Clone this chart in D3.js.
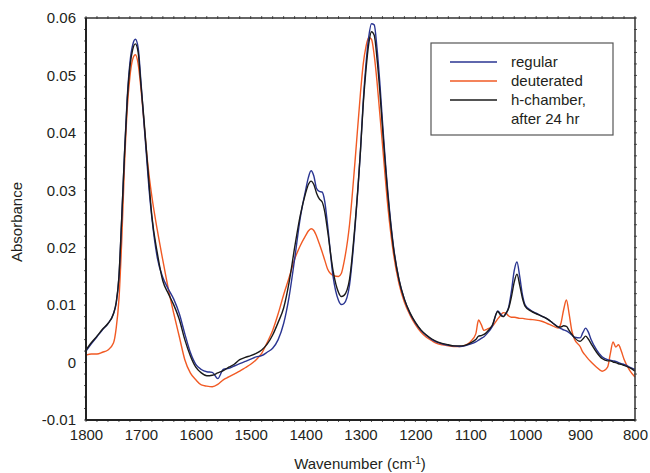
<!DOCTYPE html>
<html>
<head>
<meta charset="utf-8">
<script src="https://cdn.jsdelivr.net/npm/d3@7"></script>
<style>
  body { margin: 0; background: #fff; }
  text { font-family: "Liberation Sans", Arial, sans-serif; fill: #231f20; }
</style>
</head>
<body>
<svg id="chart" width="650" height="473"></svg>
<script>
const wavenumber = [1800,1790,1780,1770,1760,1750,1745,1740,1735,1730,1725,1720,1715,1710,1705,1700,1695,1690,1685,1680,1670,1660,1650,1640,1630,1620,1610,1600,1590,1580,1570,1560,1550,1540,1530,1520,1510,1500,1490,1480,1470,1460,1450,1440,1430,1420,1410,1400,1395,1390,1385,1380,1375,1370,1365,1360,1350,1340,1335,1330,1320,1310,1300,1295,1290,1285,1280,1275,1270,1265,1260,1250,1240,1230,1220,1210,1200,1190,1180,1170,1160,1150,1140,1130,1120,1110,1100,1090,1085,1080,1075,1070,1060,1050,1045,1040,1035,1030,1025,1020,1015,1010,1005,1000,990,980,970,960,950,940,935,930,925,920,915,910,900,895,890,885,880,870,860,850,845,840,835,830,825,820,810,800];

const regular = [0.0020,0.0033,0.0045,0.0057,0.0068,0.0085,0.0103,0.0148,0.0250,0.0362,0.0460,0.0522,0.0553,0.0563,0.0548,0.0490,0.0425,0.0362,0.0300,0.0252,0.0182,0.0148,0.0128,0.0110,0.0085,0.0050,0.0018,-0.0003,-0.0012,-0.0016,-0.0017,-0.0028,-0.0012,-0.0010,-0.0006,-0.0002,0.0002,0.0006,0.0010,0.0012,0.0018,0.0025,0.0040,0.0068,0.0115,0.0180,0.0250,0.0300,0.0322,0.0334,0.0325,0.0303,0.0298,0.0297,0.0280,0.0240,0.0150,0.0108,0.0101,0.0103,0.0135,0.0235,0.0370,0.0455,0.0520,0.0567,0.0590,0.0588,0.0548,0.0490,0.0420,0.0295,0.0203,0.0145,0.0110,0.0086,0.0069,0.0056,0.0047,0.0040,0.0035,0.0032,0.0030,0.0029,0.0028,0.0029,0.0032,0.0036,0.0039,0.0042,0.0045,0.0050,0.0063,0.0090,0.0085,0.0080,0.0085,0.0097,0.0125,0.0160,0.0175,0.0150,0.0118,0.0100,0.0091,0.0086,0.0081,0.0076,0.0069,0.0062,0.0059,0.0057,0.0055,0.0052,0.0048,0.0044,0.0043,0.0052,0.0060,0.0053,0.0040,0.0022,0.0010,0.0005,0.0004,0.0003,0.0002,0.0000,-0.0002,-0.0003,-0.0008,-0.0012];

const deuterated = [0.0013,0.0015,0.0015,0.0018,0.0022,0.0034,0.0060,0.0110,0.0210,0.0340,0.0440,0.0498,0.0528,0.0536,0.0520,0.0478,0.0425,0.0370,0.0325,0.0289,0.0230,0.0178,0.0128,0.0085,0.0045,0.0005,-0.0018,-0.0030,-0.0039,-0.0041,-0.0042,-0.0038,-0.0030,-0.0025,-0.0020,-0.0015,-0.0009,-0.0003,0.0005,0.0016,0.0035,0.0056,0.0085,0.0118,0.0148,0.0180,0.0203,0.0221,0.0229,0.0233,0.0230,0.0220,0.0207,0.0193,0.0178,0.0163,0.0152,0.0150,0.0155,0.0175,0.0240,0.0350,0.0470,0.0520,0.0550,0.0566,0.0563,0.0535,0.0490,0.0435,0.0380,0.0270,0.0190,0.0138,0.0105,0.0083,0.0066,0.0053,0.0044,0.0038,0.0033,0.0031,0.0029,0.0028,0.0028,0.0030,0.0036,0.0050,0.0074,0.0066,0.0056,0.0058,0.0063,0.0076,0.0082,0.0087,0.0086,0.0081,0.0079,0.0079,0.0078,0.0077,0.0077,0.0076,0.0075,0.0074,0.0072,0.0068,0.0064,0.0060,0.0068,0.0092,0.0109,0.0085,0.0055,0.0040,0.0028,0.0018,0.0012,0.0006,0.0001,-0.0008,-0.0015,-0.0008,0.0015,0.0036,0.0027,0.0031,0.0020,0.0006,-0.0013,-0.0025];

const hChamber = [0.0022,0.0035,0.0046,0.0058,0.0068,0.0085,0.0105,0.0150,0.0250,0.0360,0.0455,0.0515,0.0545,0.0555,0.0540,0.0485,0.0430,0.0370,0.0310,0.0255,0.0190,0.0142,0.0120,0.0100,0.0075,0.0040,0.0012,-0.0008,-0.0018,-0.0023,-0.0022,-0.0018,-0.0014,-0.0008,-0.0003,0.0005,0.0009,0.0012,0.0016,0.0022,0.0032,0.0048,0.0070,0.0095,0.0140,0.0200,0.0255,0.0295,0.0310,0.0316,0.0310,0.0295,0.0285,0.0280,0.0262,0.0230,0.0160,0.0122,0.0115,0.0117,0.0145,0.0240,0.0370,0.0450,0.0510,0.0555,0.0576,0.0570,0.0530,0.0475,0.0410,0.0290,0.0200,0.0145,0.0110,0.0087,0.0070,0.0057,0.0048,0.0041,0.0036,0.0033,0.0031,0.0029,0.0029,0.0030,0.0034,0.0040,0.0046,0.0047,0.0049,0.0053,0.0065,0.0089,0.0083,0.0080,0.0086,0.0095,0.0115,0.0140,0.0154,0.0135,0.0112,0.0098,0.0090,0.0085,0.0081,0.0076,0.0069,0.0062,0.0062,0.0064,0.0063,0.0056,0.0049,0.0043,0.0037,0.0041,0.0046,0.0041,0.0033,0.0018,0.0007,0.0003,0.0003,0.0001,0.0000,-0.0002,-0.0003,-0.0005,-0.0009,-0.0015];

const xTicks = [1800,1700,1600,1500,1400,1300,1200,1100,1000,900,800];
const yTicks = [-0.01,0,0.01,0.02,0.03,0.04,0.05,0.06];
const yTickLabels = ["-0.01","0","0.01","0.02","0.03","0.04","0.05","0.06"];
const seriesNames = ["regular","deuterated","h-chamber,|after 24 hr"];
const seriesColors = ["#2a3592","#f15a24","#1a1a1a"];
const seriesData = [regular, deuterated, hChamber];

const svg = d3.select("#chart");
const pL = 86, pR = 635, pT = 18, pB = 420;

const x = d3.scaleLinear().domain([1800, 800]).range([pL, pR]);
const y = d3.scaleLinear().domain([-0.01, 0.06]).range([pB, pT]);

// minor ticks
const minorX = d3.range(1800, 799, -20);
const minorY = d3.range(-0.01, 0.0601, 0.002);

const tickColor = "#555";
const g = svg.append("g");
minorX.forEach(v => {
  g.append("line").attr("x1", x(v)).attr("x2", x(v)).attr("y1", pT - 2).attr("y2", pT + 1).attr("stroke", tickColor).attr("stroke-width", 1);
  g.append("line").attr("x1", x(v)).attr("x2", x(v)).attr("y1", pB - 1).attr("y2", pB + 2).attr("stroke", tickColor).attr("stroke-width", 1);
});
minorY.forEach(v => {
  g.append("line").attr("x1", pL - 2).attr("x2", pL + 1).attr("y1", y(v)).attr("y2", y(v)).attr("stroke", tickColor).attr("stroke-width", 1);
  g.append("line").attr("x1", pR - 1).attr("x2", pR + 2).attr("y1", y(v)).attr("y2", y(v)).attr("stroke", tickColor).attr("stroke-width", 1);
});

// lines
const line = d3.line().x((d, i) => x(wavenumber[i])).y(d => y(d)).curve(d3.curveMonotoneX);
const order = [1, 0, 2];
order.forEach(k => {
  svg.append("path").datum(seriesData[k]).attr("d", line)
    .attr("fill", "none").attr("stroke", seriesColors[k]).attr("stroke-width", 1.4).attr("stroke-linejoin", "round");
});

// frame
svg.append("rect").attr("x", pL).attr("y", pT).attr("width", pR - pL).attr("height", pB - pT)
  .attr("fill", "none").attr("stroke", "#333").attr("stroke-width", 1.5);
svg.append("line").attr("x1", pL).attr("x2", pL).attr("y1", pT).attr("y2", pB).attr("stroke", "#222").attr("stroke-width", 2);
svg.append("line").attr("x1", pL).attr("x2", pR).attr("y1", pB).attr("y2", pB).attr("stroke", "#222").attr("stroke-width", 2);

// axes labels via d3 axes
const xAxis = d3.axisBottom(x).tickValues(xTicks).tickFormat(d3.format("d")).tickSize(0).tickPadding(9);
const xg = svg.append("g").attr("transform", `translate(0,${pB})`).call(xAxis);
xg.select(".domain").remove();
xg.selectAll("text").attr("font-size", 15).attr("font-family", "Liberation Sans, Arial, sans-serif").attr("fill", "#231f20");

const yAxis = d3.axisLeft(y).tickValues(yTicks).tickFormat((d, i) => yTickLabels[i]).tickSize(0).tickPadding(10);
const yg = svg.append("g").attr("transform", `translate(${pL},0)`).call(yAxis);
yg.select(".domain").remove();
yg.selectAll("text").attr("font-size", 15).attr("font-family", "Liberation Sans, Arial, sans-serif").attr("fill", "#231f20");

// titles
svg.append("text").attr("transform", "translate(22,222) rotate(-90)").attr("text-anchor", "middle")
  .attr("font-size", 15).text("Absorbance");
const xt = svg.append("text").attr("x", 360).attr("y", 469).attr("text-anchor", "middle").attr("font-size", 15);
xt.append("tspan").text("Wavenumber (cm");
xt.append("tspan").attr("dy", -5).attr("font-size", 10).text("-1");
xt.append("tspan").attr("dy", 5).text(")");

// legend
const lg = svg.append("g");
lg.append("rect").attr("x", 431).attr("y", 43).attr("width", 182).attr("height", 92)
  .attr("fill", "#fff").attr("stroke", "#555").attr("stroke-width", 1.2);
const rows = [62, 81, 100];
seriesNames.forEach((name, i) => {
  lg.append("line").attr("x1", 450).attr("x2", 497).attr("y1", rows[i]).attr("y2", rows[i])
    .attr("stroke", seriesColors[i]).attr("stroke-width", 1.4);
  const parts = name.split("|");
  parts.forEach((p, j) => {
    lg.append("text").attr("x", 511).attr("y", rows[i] + 5 + j * 19).attr("font-size", 15).text(p);
  });
});
</script>
</body>
</html>
